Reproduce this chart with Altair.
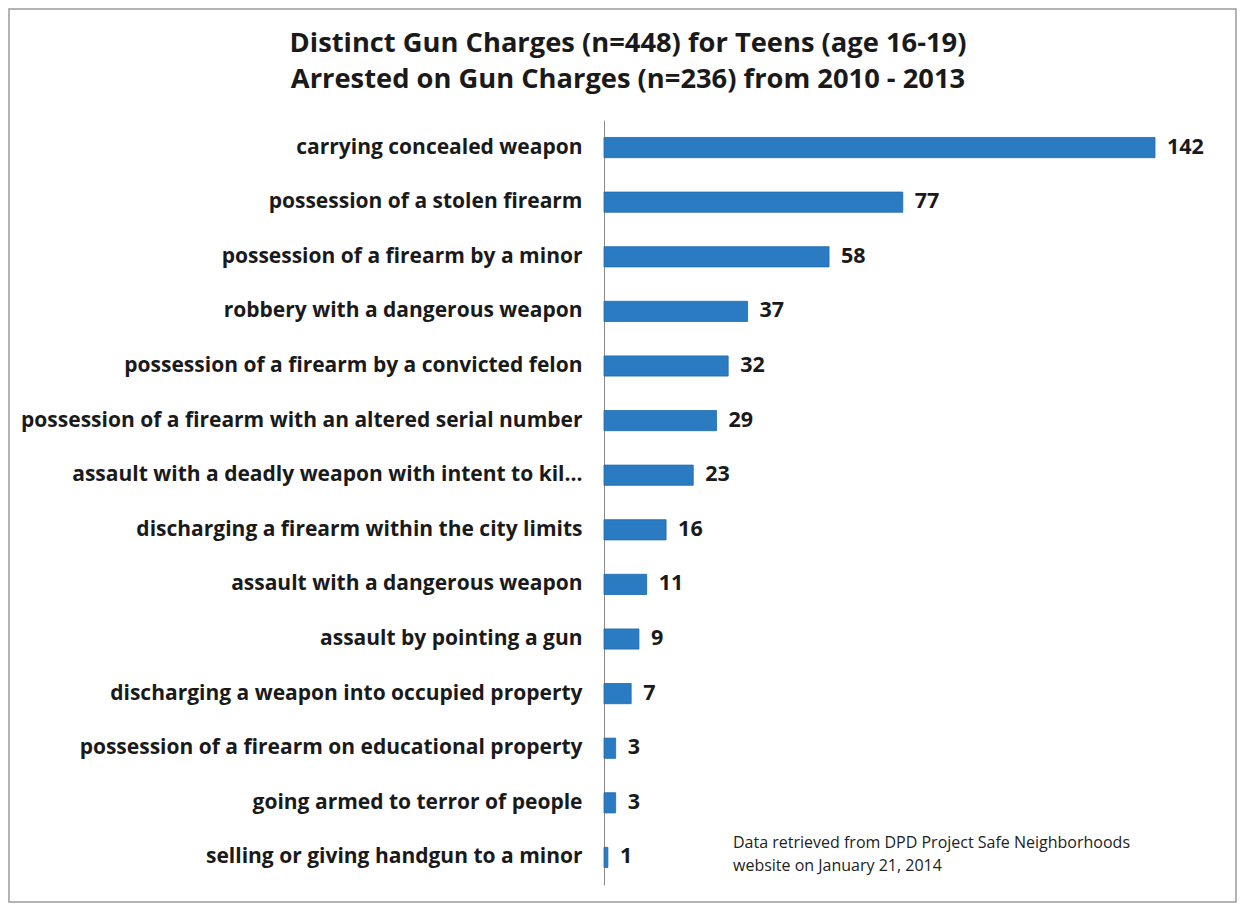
import altair as alt
import pandas as pd

charges = [
    "carrying concealed weapon",
    "possession of a stolen firearm",
    "possession of a firearm by a minor",
    "robbery with a dangerous weapon",
    "possession of a firearm by a convicted felon",
    "possession of a firearm with an altered serial number",
    "assault with a deadly weapon with intent to kil...",
    "discharging a firearm within the city limits",
    "assault with a dangerous weapon",
    "assault by pointing a gun",
    "discharging a weapon into occupied property",
    "possession of a firearm on educational property",
    "going armed to terror of people",
    "selling or giving handgun to a minor",
]
counts = [142, 77, 58, 37, 32, 29, 23, 16, 11, 9, 7, 3, 3, 1]

title_lines = [
    "Distinct Gun Charges (n=448) for Teens (age 16-19)",
    "Arrested on Gun Charges (n=236) from 2010 - 2013",
]
note_lines = [
    "Data retrieved from DPD Project Safe Neighborhoods",
    "website on January 21, 2014",
]

df = pd.DataFrame({"charge": charges, "count": counts})

FONT = "Open Sans"
W, H = 551, 765
PL, PT = 596, 112

y_enc = alt.Y(
    "charge:N",
    sort=charges,
    scale=alt.Scale(paddingInner=0.63, paddingOuter=0.32),
    axis=alt.Axis(
        title=None,
        ticks=False,
        labelPadding=22,
        labelFontSize=21,
        labelFont=FONT,
        labelFontWeight="bold",
        labelColor="#1a1a1a",
        domainColor="#8a8a8a",
        labelLimit=0,
    ),
)
x_enc = alt.X(
    "count:Q",
    scale=alt.Scale(domain=[0, 142], nice=False),
    axis=None,
)

bars = alt.Chart(df).mark_bar(color="#2b7bc3", stroke="#1f6aae", strokeWidth=0.8).encode(
    x=x_enc, y=y_enc
)
values = alt.Chart(df).mark_text(
    align="left", baseline="middle", dx=12, font=FONT, fontSize=21.5, fontWeight="bold", color="#1a1a1a"
).encode(x=x_enc, y=y_enc, text="count:Q")

note_df = pd.DataFrame({"line": ["\n".join(note_lines)]})
note = alt.Chart(note_df).mark_text(
    align="left", baseline="top", font=FONT, fontSize=16, color="#222222",
    lineBreak="\n", lineHeight=23,
).encode(
    x=alt.value(129),
    y=alt.value(715),
    text="line:N",
)

title_df = pd.DataFrame({"line": ["\n".join(title_lines)]})
title = alt.Chart(title_df).mark_text(
    align="center", baseline="top", font=FONT, fontSize=27.3, fontWeight="bold", color="#1a1a1a",
    lineBreak="\n", lineHeight=36,
).encode(
    x=alt.value(24),
    y=alt.value(-90),
    text="line:N",
)

border = alt.Chart(pd.DataFrame({"a": [0]})).mark_rect(
    fill=None, stroke="#9a9a9a", strokeWidth=1.5
).encode(
    x=alt.value(-595), x2=alt.value(632), y=alt.value(-111), y2=alt.value(782)
)

chart = alt.layer(border, bars, values, note, title).properties(
    width=W,
    height=H,
    padding={"left": PL, "top": PT, "right": 82, "bottom": 20},
    autosize=alt.AutoSizeParams(type="none"),
).configure(background="white").configure_view(stroke=None)

chart.save("out.html", embed_options={"renderer": "svg", "actions": False})
